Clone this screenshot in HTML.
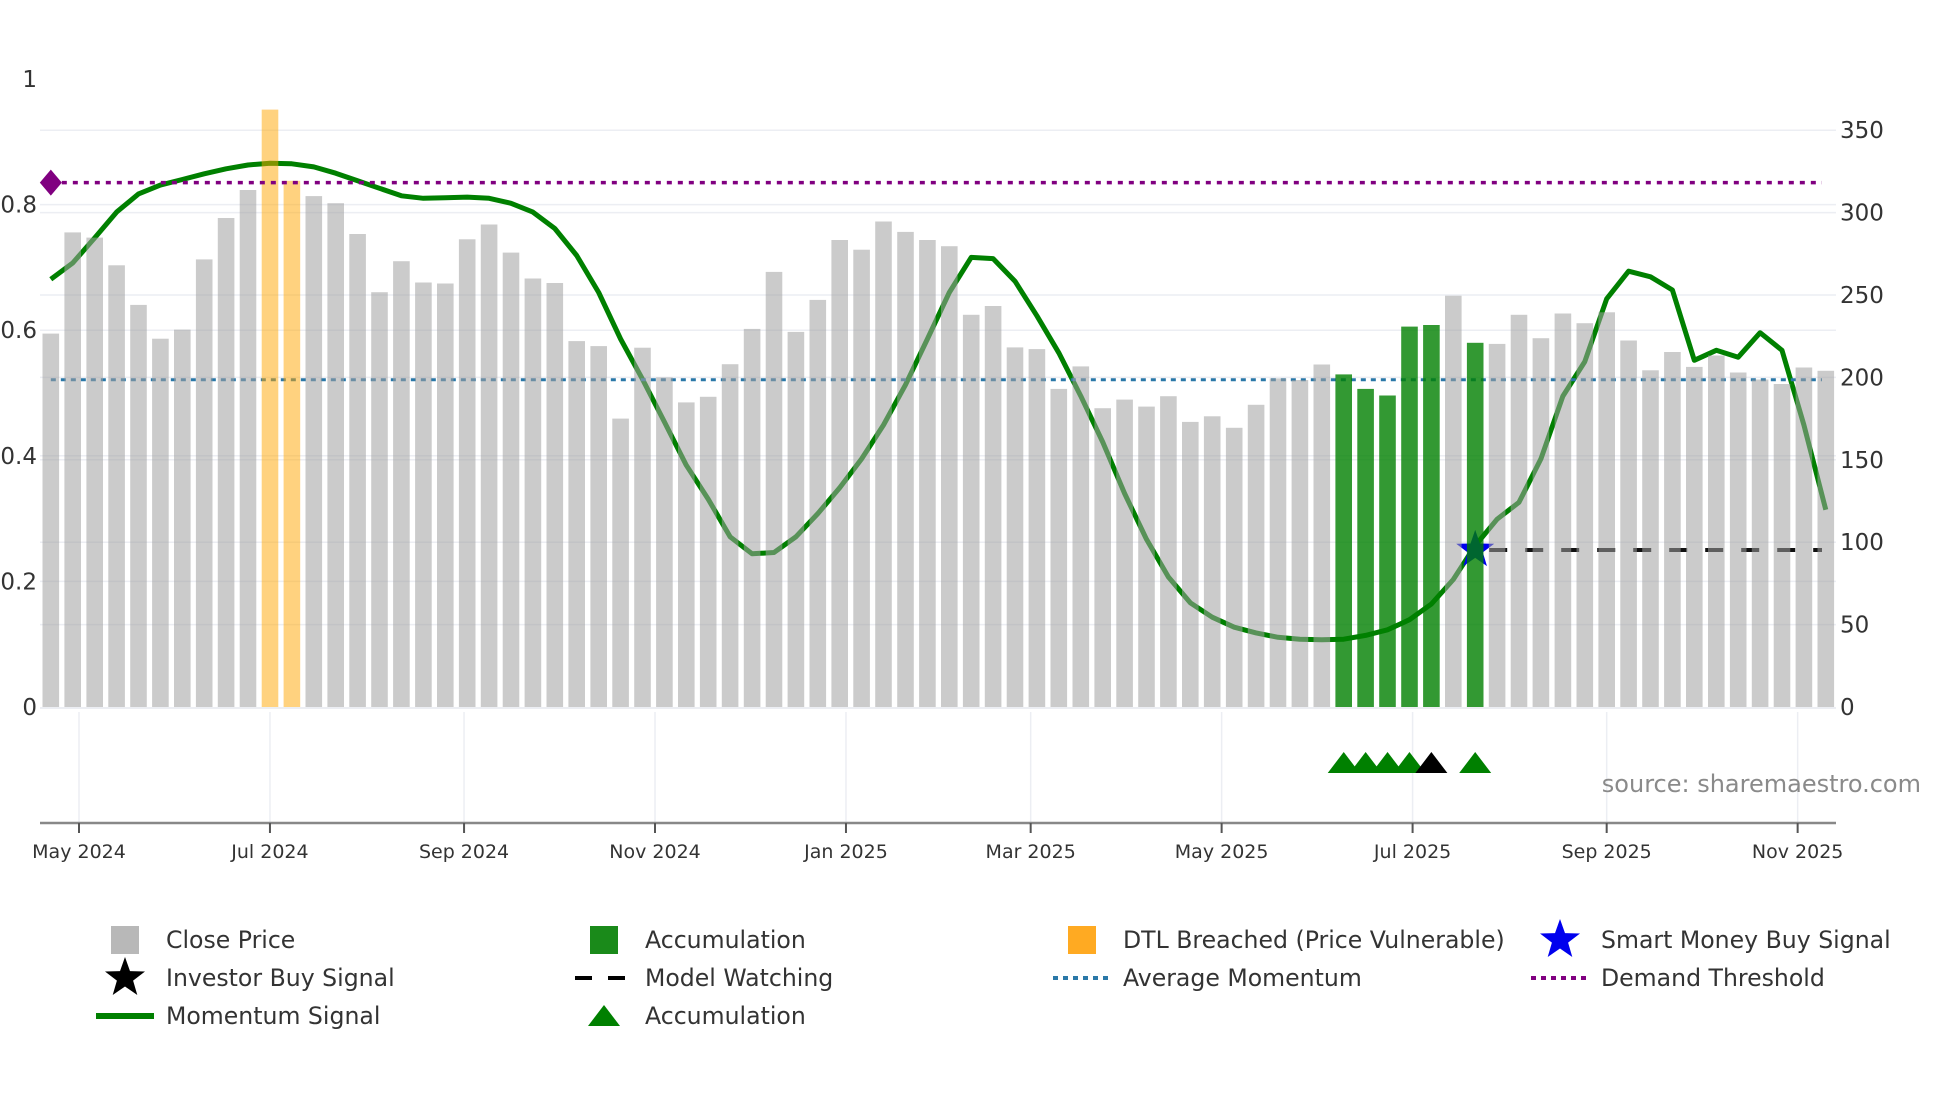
<!DOCTYPE html>
<html><head><meta charset="utf-8"><style>
html,body{margin:0;padding:0;background:#fff;}
svg{display:block;font-family:"DejaVu Sans","Liberation Sans",sans-serif;}
</style></head><body>
<svg id="chart" width="1960" height="1102" viewBox="0 0 1960 1102" xmlns="http://www.w3.org/2000/svg">
<g id="grid"></g>
<g id="under"></g>
<g id="bars"></g>
<g id="over"></g>
<g id="axes"></g>
<text x="1921" y="792" text-anchor="end" font-size="24" fill="#8a8a8a">source: sharemaestro.com</text>
<g id="legend"></g>
</svg>
<script>
const startDate = "2024-04-22";
const closePrice = [226.6,288,284.8,268,244,223.5,229,271.6,296.7,313.7,362.5,319.3,310,305.7,287,251.7,270.5,257.6,257,283.8,292.8,275.7,260,257.3,222,219,175,218,200,184.8,188.2,208,229.4,264,227.6,247,283.4,277.5,294.6,288.3,283.4,279.6,238,243.3,218.2,217.2,193,206.7,181.3,186.5,182.3,188.6,173,176.4,169.4,183.4,199.4,198.4,207.8,201.8,193,189,230.8,231.8,249.6,221,220.3,238,223.8,238.8,232.9,239.5,222.4,204.3,215.4,206.4,213.3,203,198.7,196,206,204];
const momentum = [0.681,0.707,0.747,0.788,0.817,0.831,0.84,0.849,0.857,0.863,0.866,0.865,0.86,0.85,0.838,0.826,0.814,0.81,0.811,0.812,0.81,0.802,0.788,0.762,0.719,0.66,0.586,0.522,0.454,0.385,0.331,0.271,0.244,0.246,0.271,0.308,0.349,0.395,0.449,0.513,0.586,0.66,0.716,0.714,0.678,0.623,0.564,0.495,0.422,0.34,0.267,0.207,0.166,0.143,0.127,0.118,0.111,0.108,0.107,0.108,0.114,0.123,0.139,0.164,0.203,0.257,0.299,0.326,0.395,0.495,0.55,0.65,0.694,0.685,0.664,0.552,0.568,0.557,0.596,0.568,0.449,0.314];
const dtlBars = [10,11];
const accumBars = [59,60,61,62,63,65];
const accumTriangles = [59,60,61,62,65];
const investorTriangles = [63];
const smartMoneyIndex = 65;
const modelWatchingPrice = 95.3;
const averageMomentum = 0.521;
const demandThreshold = 0.835;
const leftTicks = [0,0.2,0.4,0.6,0.8,1];
const leftTickLabels = ["0","0.2","0.4","0.6","0.8","1"];
const rightTicks = [0,50,100,150,200,250,300,350];
const monthTicks = ["2024-05-01","2024-07-01","2024-09-01","2024-11-01","2025-01-01","2025-03-01","2025-05-01","2025-07-01","2025-09-01","2025-11-01"];
const monthLabels = ["May 2024","Jul 2024","Sep 2024","Nov 2024","Jan 2025","Mar 2025","May 2025","Jul 2025","Sep 2025","Nov 2025"];

const NS="http://www.w3.org/2000/svg";
const DAY=86400000, x0=Date.parse("2024-05-01"), PXD=3.1305, XL=79;
function xDate(s){return XL+(Date.parse(s)-x0)/DAY*PXD;}
function xIdx(i){return XL+((Date.parse(startDate)-x0)/DAY+7*i)*PXD;}
function yL(v){return 707-v*628;}
function yR(v){return 707-v*1.648;}
function mk(tag,parent,attrs){const e=document.createElementNS(NS,tag);for(const k in attrs)e.setAttribute(k,attrs[k]);parent.appendChild(e);return e;}
const grid=document.getElementById('grid'),under=document.getElementById('under'),bars=document.getElementById('bars'),over=document.getElementById('over'),axes=document.getElementById('axes'),legend=document.getElementById('legend');
const PL=40,PR=1836,XEND=1822;

rightTicks.forEach(t=>{if(t===0)return;const l=mk('line',grid,{x1:PL,x2:PR,y1:yR(t),y2:yR(t),stroke:'#eceef3','stroke-width':1.5});

});
leftTicks.forEach(t=>{if(t===0||t===1)return;const l=mk('line',grid,{x1:PL,x2:PR,y1:yL(t),y2:yL(t),stroke:'#eceef3','stroke-width':1.5});

});
mk('line',grid,{x1:PL,x2:PR,y1:708,y2:708,stroke:'#eceef3','stroke-width':2});
monthTicks.forEach(m=>{const l=mk('line',grid,{x1:xDate(m),x2:xDate(m),y1:712,y2:823,stroke:'#eceef3','stroke-width':1.5});

});

const pts=momentum.map((v,i)=>xIdx(i).toFixed(1)+','+yL(v).toFixed(1)).join(' ');
const ml=mk('polyline',under,{points:pts,fill:'none',stroke:'#008000','stroke-width':5,'stroke-linejoin':'round'});


const am=mk('line',under,{x1:xIdx(0),x2:XEND,y1:yL(averageMomentum),y2:yL(averageMomentum),stroke:'#2a78a8','stroke-width':3,'stroke-dasharray':'5,5'});


const mw=mk('line',under,{x1:xIdx(smartMoneyIndex)+14,x2:XEND,y1:yR(modelWatchingPrice),y2:yR(modelWatchingPrice),stroke:'#111','stroke-width':4,'stroke-dasharray':'18,18'});


function star(cx,cy,R,r){let p=[];for(let k=0;k<10;k++){const a=-Math.PI/2+k*Math.PI/5,rr=k%2?r:R;p.push((cx+rr*Math.cos(a)).toFixed(1)+','+(cy+rr*Math.sin(a)).toFixed(1));}return p.join(' ');}
const st=mk('polygon',under,{points:star(xIdx(smartMoneyIndex),yR(modelWatchingPrice),20,8),fill:'#0000ee'});



closePrice.forEach((v,i)=>{let fill='rgb(160,160,160)',op=0.55,name='close-price-bar';
 if(dtlBars.includes(i)){fill='rgb(255,165,0)';op=0.5;name='dtl-breached-bar';}
 if(accumBars.includes(i)){fill='rgb(0,128,0)';op=0.8;name='accumulation-bar';}
 const b=mk('rect',bars,{x:(xIdx(i)-8.3).toFixed(1),y:yR(v).toFixed(1),width:16.6,height:(707-yR(v)).toFixed(1),fill:fill,'fill-opacity':op});
 
 
});

const dt=mk('line',over,{x1:xIdx(0),x2:XEND,y1:yL(demandThreshold),y2:yL(demandThreshold),stroke:'#800080','stroke-width':3.5,'stroke-dasharray':'5,6'});


const dx=xIdx(0),dy=yL(demandThreshold);
const dm=mk('polygon',over,{points:`${dx},${dy-13} ${dx+11},${dy} ${dx},${dy+13} ${dx-11},${dy}`,fill:'#800080'});


function tri(i,color,name){const cx=xIdx(i),cy=763;const t=mk('polygon',over,{points:`${cx-16},${cy+10} ${cx},${cy-11} ${cx+16},${cy+10}`,fill:color});
 
 }
accumTriangles.forEach(i=>tri(i,'#008000','accumulation-triangle'));
investorTriangles.forEach(i=>tri(i,'#000','investor-buy-triangle'));

mk('line',axes,{x1:PL,x2:PR,y1:823,y2:823,stroke:'#888','stroke-width':2.5});
monthTicks.forEach((m,k)=>{const x=xDate(m);mk('line',axes,{x1:x,x2:x,y1:823,y2:833,stroke:'#555','stroke-width':2});
 const t=mk('text',axes,{x:x,y:858,'text-anchor':'middle','font-size':19,fill:'#333'});t.textContent=monthLabels[k];
 
 });
leftTicks.forEach((v,k)=>{const t=mk('text',axes,{x:37,y:yL(v)+8,'text-anchor':'end','font-size':23,fill:'#333'});t.textContent=leftTickLabels[k];
 
 });
rightTicks.forEach(v=>{const t=mk('text',axes,{x:1840,y:yR(v)+8,'font-size':23,fill:'#333'});t.textContent=String(v);
 
 });

const legendItems=[
 ['Close Price','rect','#b8b8b8',125,940],['Accumulation','rect','#1a8a1a',604,940],['DTL Breached (Price Vulnerable)','rect','#ffaa22',1082,940],['Smart Money Buy Signal','star','#0000ee',1560,940],
 ['Investor Buy Signal','star','#000',125,978],['Model Watching','dash','#000',604,978],['Average Momentum','dot','#2a78a8',1082,978],['Demand Threshold','dot','#800080',1560,978],
 ['Momentum Signal','line','#008000',125,1016],['Accumulation','tri','#008000',604,1016]];
legendItems.forEach(([label,type,col,x,y])=>{const g=mk('g',legend,{});
 
 
 if(type==='rect')mk('rect',g,{x:x-14,y:y-14,width:28,height:28,fill:col});
 if(type==='star')mk('polygon',g,{points:star(x,y,21,8.5),fill:col});
 if(type==='line')mk('line',g,{x1:x-29,x2:x+29,y1:y,y2:y,stroke:col,'stroke-width':6});
 if(type==='dash')mk('line',g,{x1:x-29,x2:x+29,y1:y,y2:y,stroke:col,'stroke-width':4,'stroke-dasharray':'17,16'});
 if(type==='dot')mk('line',g,{x1:x-29,x2:x+29,y1:y,y2:y,stroke:col,'stroke-width':4,'stroke-dasharray':'5,5'});
 if(type==='tri')mk('polygon',g,{points:`${x-16},${y+10} ${x},${y-11} ${x+16},${y+10}`,fill:col});
 const t=mk('text',g,{x:x+41,y:y+8,'font-size':23.6,fill:'#333'});t.textContent=label;});
</script>
</body></html>
